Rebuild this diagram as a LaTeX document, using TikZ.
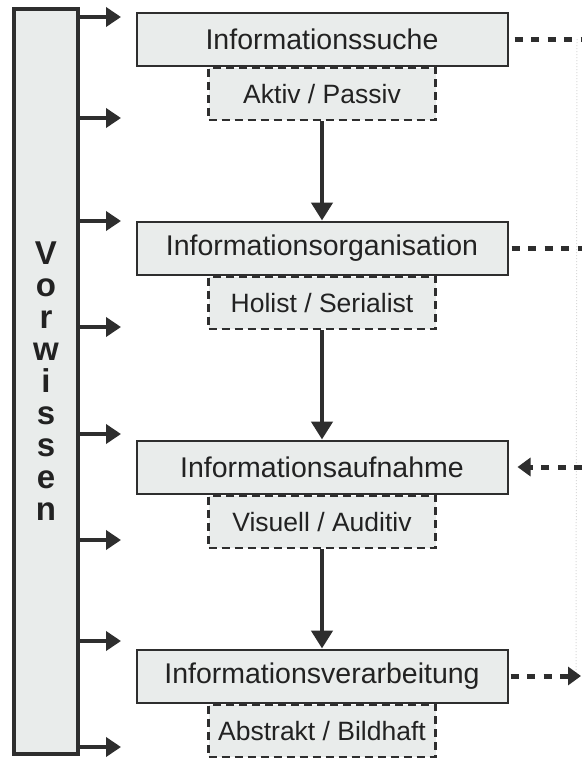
\documentclass[tikz,border=0pt]{standalone}
\usepackage{fontspec}
\setmainfont{Liberation Sans}
\usepackage{xcolor}
\usepackage{tikz}
\usetikzlibrary{arrows.meta}
\usetikzlibrary{positioning}

\definecolor{boxgrey}{HTML}{E9ECEB}
\definecolor{linegrey}{HTML}{2E2E2E}
\definecolor{textgrey}{HTML}{222222}

\tikzset{
  wissen/.style={draw=linegrey, line width=4pt, fill=boxgrey, minimum width=64pt,
    minimum height=745pt, inner sep=0pt, align=center, text=textgrey,
    font=\bfseries\fontsize{33}{32}\selectfont},
  phase/.style={draw=linegrey, line width=2pt, fill=boxgrey, minimum width=371pt,
    minimum height=53pt, inner sep=0pt, text=textgrey, font=\fontsize{28.5}{32}\selectfont},
  typbox/.style={draw=linegrey, line width=2.5pt, dash pattern=on 8pt off 5pt,
    fill=boxgrey, minimum width=227pt, minimum height=52pt, inner sep=0pt,
    text=textgrey, font=\fontsize{26.5}{30}\selectfont},
  feed/.style={draw=linegrey, line width=4.5pt, -{Triangle[length=15pt,width=19pt]}},
  flow/.style={draw=linegrey, line width=4.5pt, -{Triangle[length=18pt,width=21pt]}},
  link/.style={draw=linegrey, line width=5pt, dash pattern=on 8pt off 8.5pt},
}

\begin{document}
\begin{tikzpicture}[x=1pt,y=-1pt,>=Stealth]
      \useasboundingbox[fill=white] (0,0) rectangle (582,758);

      % Vorwissen bar with its arrows
      \node[wissen] (vw) at (46,381) {V\\o\\r\\w\\i\\s\\s\\e\\n};
      \foreach \y in {17,118,221,327,434,540,641,747} {
        \coordinate (f\y) at (121,\y);
        \draw[feed] (vw.east |- f\y) -- (f\y);
      }

      % phases and their styles
      \node[phase] (suche) at (322,39) {Informationssuche};
      \node[typbox, below=0pt of suche] (suchetyp) {Aktiv / Passiv};

      \node[phase] (organisation) at (322,248) {Informationsorganisation};
      \node[typbox, below=0pt of organisation] (organisationtyp) {Holist / Serialist};

      \node[phase] (aufnahme) at (322,467) {Informationsaufnahme};
      \node[typbox, below=0pt of aufnahme] (aufnahmetyp) {Visuell / Auditiv};

      \node[phase] (verarbeitung) at (322,676) {Informationsverarbeitung};
      \node[typbox, below=0pt of verarbeitung] (verarbeitungtyp) {Abstrakt / Bildhaft};

      \draw[flow] (suchetyp) -- (organisation);
      \draw[flow] (organisationtyp) -- (aufnahme);
      \draw[flow] (aufnahmetyp) -- (verarbeitung);

      % links on the right
      \coordinate (r1) at (582,39);
      \coordinate (r2) at (582,248);
      \coordinate (r3) at (582,467);
      \coordinate (r4) at (581,676);

      \draw[gray!30, line width=1pt, dotted] ([xshift=-5pt]r1) -- ([xshift=-5pt]r4);

      \draw[link] ([xshift=6pt]suche.east) -- (r1);
      \draw[link] ([xshift=3pt]organisation.east) -- (r2);
      \draw[link, -{Triangle[length=13pt,width=18pt]}] (r3) -- ([xshift=9pt]aufnahme.east);
      \draw[link, -{Triangle[length=13pt,width=18pt]}] ([xshift=2pt]verarbeitung.east) -- (r4);
    \end{tikzpicture}
\end{document}
